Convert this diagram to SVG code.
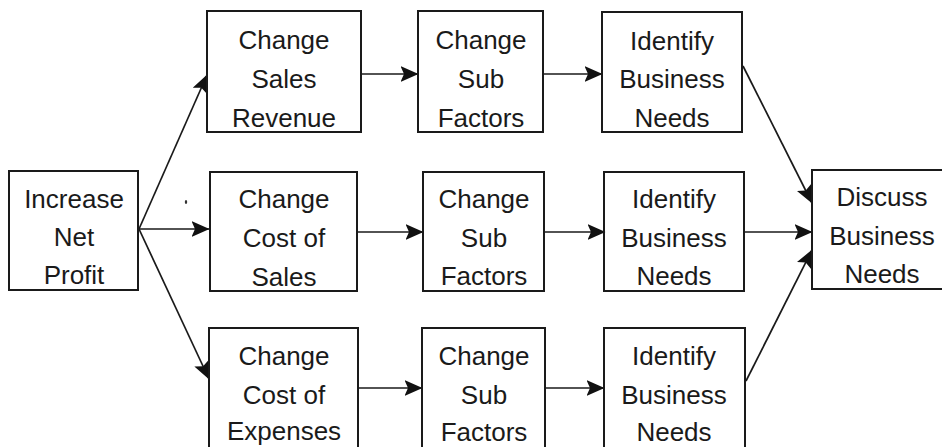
<svg xmlns="http://www.w3.org/2000/svg" width="942" height="447" viewBox="0 0 942 447">
  <style>
    .box { fill: none; stroke: #1a1a1a; stroke-width: 2; }
    .lbl { font-family: "Liberation Sans", Arial, sans-serif; font-size: 26px; fill: #1a1a1a; text-anchor: middle; }
    .link { fill: none; stroke: #1a1a1a; stroke-width: 1.7; marker-end: url(#head); }
  </style>
  <defs>
    <marker id="head" viewBox="0 0 18 16" refX="17.5" refY="8" markerWidth="18" markerHeight="16" markerUnits="userSpaceOnUse" orient="auto">
      <path d="M0,0 L18,8 L0,16 L3.5,8 Z" fill="#111"/>
    </marker>
  </defs>
  <rect width="942" height="447" fill="#ffffff"/>

  <!-- connectors -->
  <g id="connectors">
    <line class="link" x1="139" y1="229" x2="207" y2="75"/>
    <line class="link" x1="139" y1="229" x2="209" y2="229"/>
    <line class="link" x1="139" y1="229" x2="209" y2="379"/>
    <line class="link" x1="361" y1="74" x2="418" y2="74"/>
    <line class="link" x1="543" y1="74" x2="602" y2="74"/>
    <line class="link" x1="357" y1="232" x2="423" y2="232"/>
    <line class="link" x1="544" y1="232" x2="605" y2="232"/>
    <line class="link" x1="744" y1="232" x2="812" y2="232"/>
    <line class="link" x1="358" y1="388" x2="422" y2="388"/>
    <line class="link" x1="545" y1="388" x2="604" y2="388"/>
    <line class="link" x1="743" y1="66" x2="812" y2="203"/>
    <line class="link" x1="746" y1="381" x2="812" y2="250"/>
  </g>

  <g id="increase-net-profit">
    <rect class="box" x="9" y="171" width="129" height="119"/>
    <text class="lbl" x="74" y="208">Increase</text>
    <text class="lbl" x="74" y="246">Net</text>
    <text class="lbl" x="74" y="284">Profit</text>
  </g>

  <g id="change-sales-revenue">
    <rect class="box" x="207" y="11" width="154" height="121"/>
    <text class="lbl" x="284" y="49">Change</text>
    <text class="lbl" x="284" y="88">Sales</text>
    <text class="lbl" x="284" y="127">Revenue</text>
  </g>

  <g id="change-cost-of-sales">
    <rect class="box" x="210" y="172" width="147" height="119"/>
    <text class="lbl" x="284" y="208">Change</text>
    <text class="lbl" x="284" y="247">Cost of</text>
    <text class="lbl" x="284" y="286">Sales</text>
  </g>

  <g id="change-cost-of-expenses">
    <rect class="box" x="209" y="328" width="149" height="130"/>
    <text class="lbl" x="284" y="365">Change</text>
    <text class="lbl" x="284" y="404">Cost of</text>
    <text class="lbl" x="284" y="440">Expenses</text>
  </g>

  <g id="sub-factors-1">
    <rect class="box" x="418" y="11" width="125" height="121"/>
    <text class="lbl" x="481" y="49">Change</text>
    <text class="lbl" x="481" y="88">Sub</text>
    <text class="lbl" x="481" y="127">Factors</text>
  </g>

  <g id="sub-factors-2">
    <rect class="box" x="423" y="172" width="121" height="119"/>
    <text class="lbl" x="484" y="208">Change</text>
    <text class="lbl" x="484" y="247">Sub</text>
    <text class="lbl" x="484" y="285">Factors</text>
  </g>

  <g id="sub-factors-3">
    <rect class="box" x="422" y="328" width="123" height="130"/>
    <text class="lbl" x="484" y="365">Change</text>
    <text class="lbl" x="484" y="404">Sub</text>
    <text class="lbl" x="484" y="441">Factors</text>
  </g>

  <g id="identify-needs-1">
    <rect class="box" x="602" y="12" width="140" height="120"/>
    <text class="lbl" x="672" y="50">Identify</text>
    <text class="lbl" x="672" y="88">Business</text>
    <text class="lbl" x="672" y="127">Needs</text>
  </g>

  <g id="identify-needs-2">
    <rect class="box" x="604" y="172" width="140" height="119"/>
    <text class="lbl" x="674" y="208">Identify</text>
    <text class="lbl" x="674" y="247">Business</text>
    <text class="lbl" x="674" y="285">Needs</text>
  </g>

  <g id="identify-needs-3">
    <rect class="box" x="604" y="328" width="141" height="130"/>
    <text class="lbl" x="674" y="365">Identify</text>
    <text class="lbl" x="674" y="404">Business</text>
    <text class="lbl" x="674" y="441">Needs</text>
  </g>

  <g id="discuss-needs">
    <rect class="box" x="812" y="170" width="150" height="119"/>
    <text class="lbl" x="882" y="206">Discuss</text>
    <text class="lbl" x="882" y="245">Business</text>
    <text class="lbl" x="882" y="283">Needs</text>
  </g>

  <!-- small ink speck -->
  <ellipse cx="186" cy="202" rx="1.2" ry="2" fill="#333"/>
</svg>
